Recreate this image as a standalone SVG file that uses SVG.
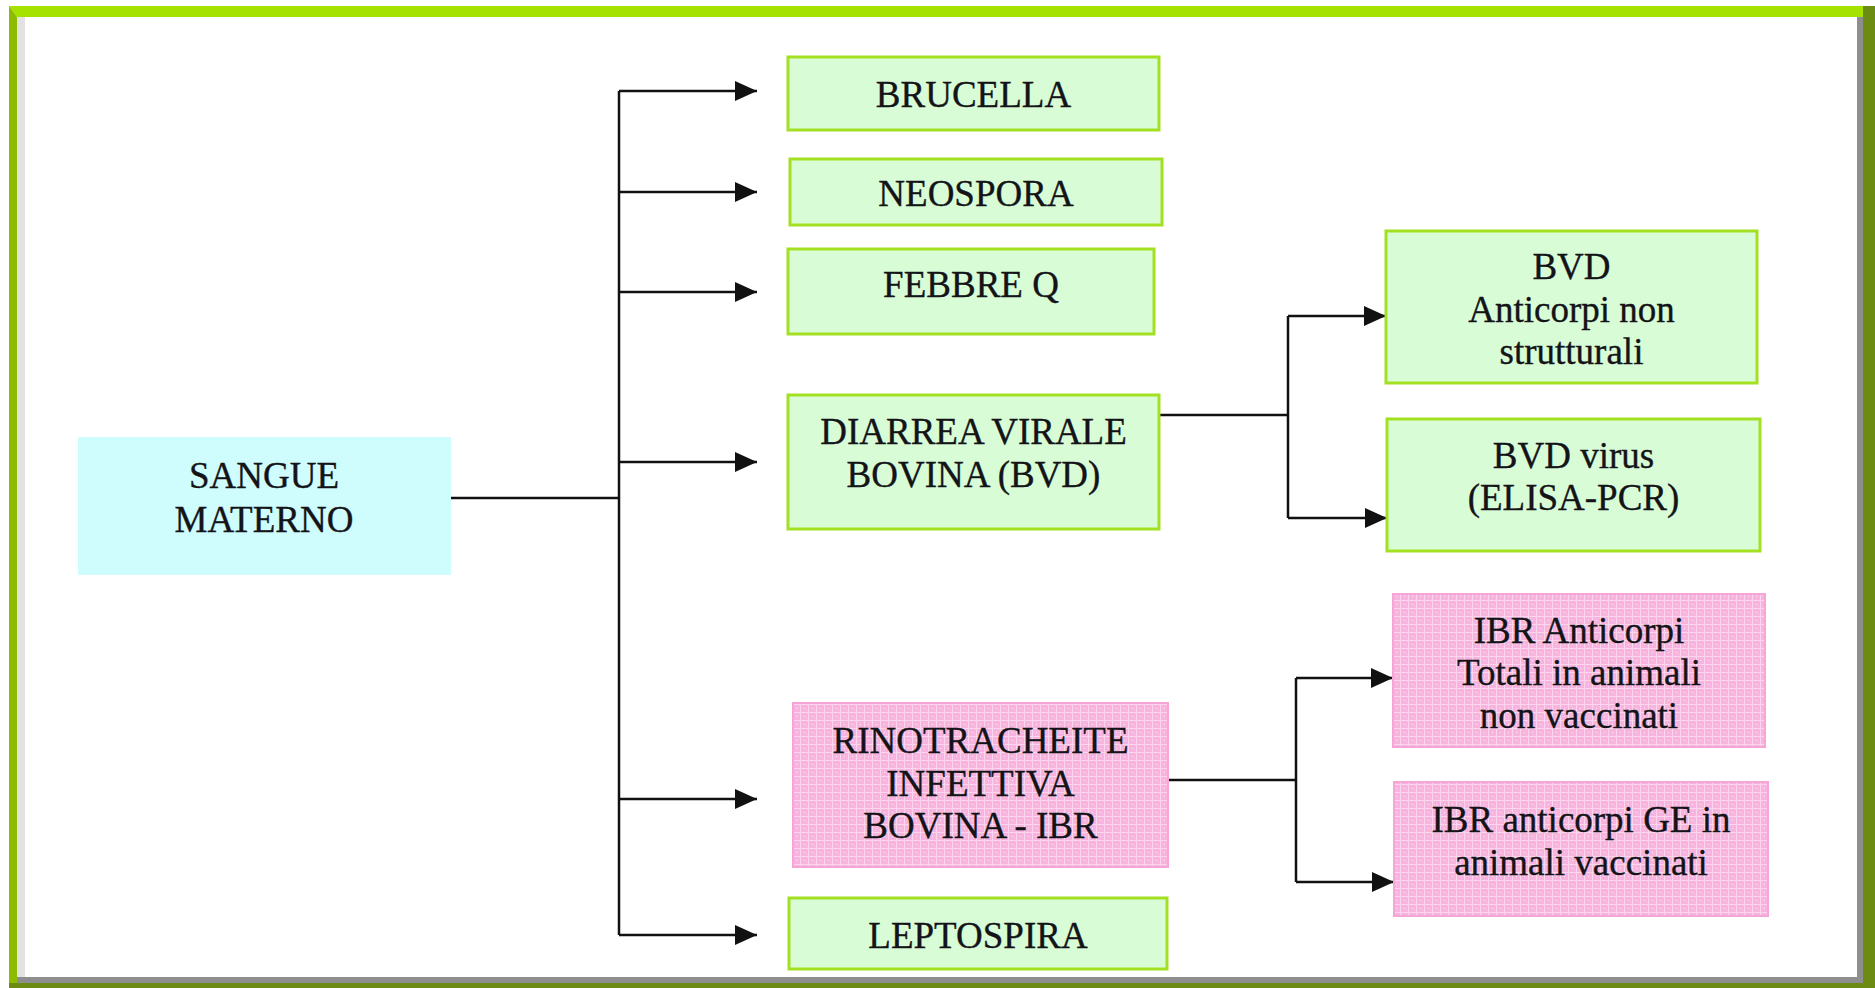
<svg xmlns="http://www.w3.org/2000/svg" width="1875" height="988" viewBox="0 0 1875 988">
  <defs>
    <style>
      .green { fill: #d8fdd6; stroke: #a3e022; stroke-width: 3; }
      .pink { fill: url(#pinkgrid); stroke: #f5a5d6; stroke-width: 2; }
      .cyan { fill: #cffdfd; stroke: none; }
      .conn { fill: none; stroke: #111; stroke-width: 2.5; }
      .arrow { fill: none; stroke: #111; stroke-width: 2.5; marker-end: url(#ah); }
    </style>
    <pattern id="pinkgrid" patternUnits="userSpaceOnUse" width="8" height="8">
      <rect width="8" height="8" fill="#f8b4df"/>
      <path d="M0,0.5 H8 M0.5,0 V8" stroke="#fcd6ee" stroke-width="1"/>
      <rect x="4" y="4" width="1" height="1" fill="#fde4f3"/>
    </pattern>
    <marker id="ah" markerUnits="userSpaceOnUse" markerWidth="24" markerHeight="22" refX="22" refY="10" orient="auto">
      <path d="M0,0 L22,10 L0,20 z" fill="#111"/>
    </marker>
  </defs>

  <!-- background and frame -->
  <rect x="0" y="0" width="1875" height="988" fill="#ffffff"/>
  <rect x="17" y="17" width="8" height="960" fill="#e2e2e2"/>
  <rect x="1857" y="17" width="6" height="966" fill="#8e8e8e"/>
  <rect x="17" y="977" width="1846" height="6" fill="#8e8e8e"/>
  <polygon points="9,6 1863,6 1863,17 17,17" fill="#a6e200"/>
  <polygon points="9,6 17,17 17,988 9,988" fill="#8cbb00"/>
  <rect x="1863" y="6" width="12" height="982" fill="#6c8b12"/>
  <rect x="9" y="983" width="1854" height="5" fill="#6c8b12"/>

  <!-- connectors -->
  <g id="connectors">
    <path class="conn" d="M450,498 H619 M619,91 V935"/>
    <path class="arrow" d="M619,91 H757"/>
    <path class="arrow" d="M619,192 H757"/>
    <path class="arrow" d="M619,292 H757"/>
    <path class="arrow" d="M619,462 H757"/>
    <path class="arrow" d="M619,799 H757"/>
    <path class="arrow" d="M619,935 H757"/>
    <path class="conn" d="M1159,415 H1288 M1288,316 V518"/>
    <path class="arrow" d="M1288,316 H1386"/>
    <path class="arrow" d="M1288,518 H1387"/>
    <path class="conn" d="M1166,780 H1296 M1296,678 V882"/>
    <path class="arrow" d="M1296,678 H1393"/>
    <path class="arrow" d="M1296,882 H1394"/>
  </g>

  <g font-family="'Liberation Serif', serif" font-size="37" fill="#141418" stroke="#141418" stroke-width="0.35" text-anchor="middle">
  <g id="sangue">
    <rect class="cyan" x="78" y="437" width="373" height="138"/>
    <text x="264" y="488">SANGUE</text>
    <text x="264" y="532">MATERNO</text>
  </g>

  <g id="brucella">
    <rect class="green" x="788" y="57" width="371" height="73"/>
    <text x="973.5" y="107">BRUCELLA</text>
  </g>

  <g id="neospora">
    <rect class="green" x="790" y="159" width="372" height="66"/>
    <text x="976" y="206">NEOSPORA</text>
  </g>

  <g id="febbre">
    <rect class="green" x="788" y="249" width="366" height="85"/>
    <text x="971" y="297">FEBBRE Q</text>
  </g>

  <g id="diarrea">
    <rect class="green" x="788" y="395" width="371" height="134"/>
    <text x="973.5" y="444">DIARREA VIRALE</text>
    <text x="973.5" y="487">BOVINA (BVD)</text>
  </g>

  <g id="rinotracheite">
    <rect class="pink" x="793" y="703" width="375" height="164"/>
    <text x="980.5" y="753">RINOTRACHEITE</text>
    <text x="980.5" y="796">INFETTIVA</text>
    <text x="980.5" y="838">BOVINA - IBR</text>
  </g>

  <g id="leptospira">
    <rect class="green" x="789" y="898" width="378" height="71"/>
    <text x="978" y="948">LEPTOSPIRA</text>
  </g>

  <g id="bvd-anticorpi">
    <rect class="green" x="1386" y="231" width="371" height="152"/>
    <text x="1571.5" y="279">BVD</text>
    <text x="1571.5" y="322">Anticorpi non</text>
    <text x="1571.5" y="364">strutturali</text>
  </g>

  <g id="bvd-virus">
    <rect class="green" x="1387" y="419" width="373" height="132"/>
    <text x="1573.5" y="468">BVD virus</text>
    <text x="1573.5" y="510">(ELISA-PCR)</text>
  </g>

  <g id="ibr-totali">
    <rect class="pink" x="1393" y="594" width="372" height="153"/>
    <text x="1579" y="643">IBR Anticorpi</text>
    <text x="1579" y="685">Totali in animali</text>
    <text x="1579" y="728">non vaccinati</text>
  </g>

  <g id="ibr-ge">
    <rect class="pink" x="1394" y="782" width="374" height="134"/>
    <text x="1581" y="832">IBR anticorpi GE in</text>
    <text x="1581" y="875">animali vaccinati</text>
  </g>
  </g>
</svg>
